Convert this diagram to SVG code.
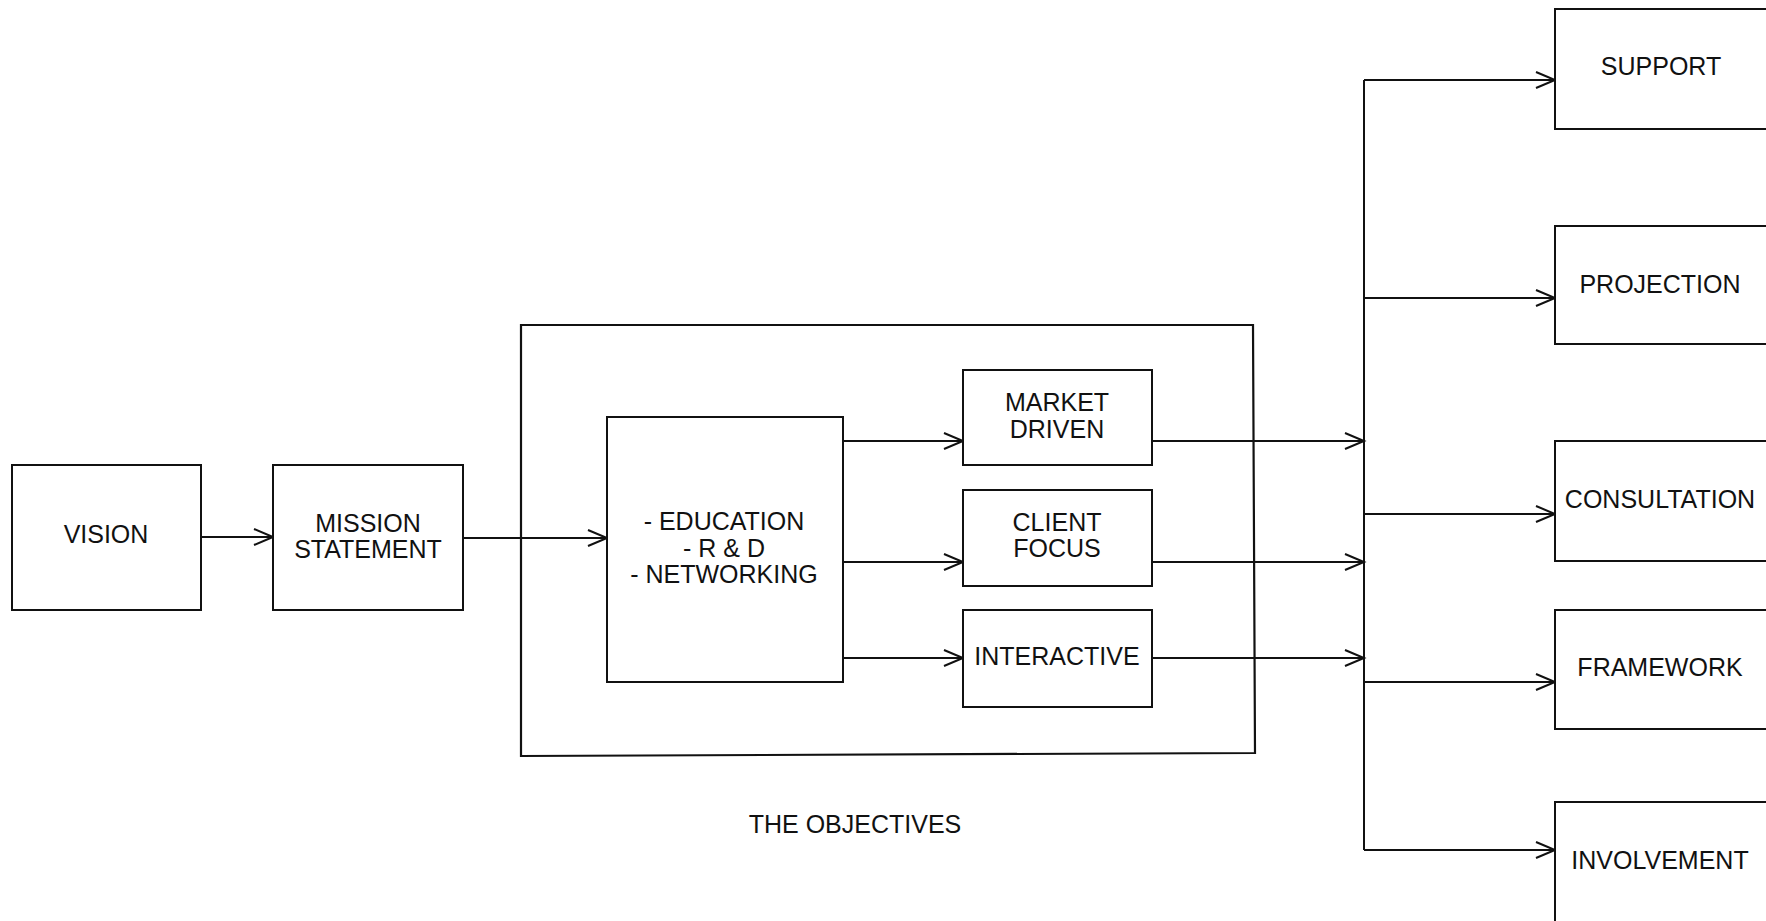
<svg xmlns="http://www.w3.org/2000/svg" width="1766" height="921" viewBox="0 0 1766 921">
<style>
.box{fill:#fff;stroke:#111;stroke-width:2}
.frame{fill:none;stroke:#111;stroke-width:2.2}
.t{font-family:"Liberation Sans",Arial,sans-serif;font-size:25px;fill:#111;text-anchor:middle}
.c{fill:none;stroke:#111;stroke-width:2}
</style>
<defs>
<marker id="arr" markerUnits="userSpaceOnUse" markerWidth="24" markerHeight="20" refX="20" refY="9" orient="auto">
<path d="M1,1 L20,9 L1,17" fill="none" stroke="#111" stroke-width="2"/>
</marker>
</defs>
<rect width="1766" height="921" fill="#fff"/>
<g id="objectives-frame">
<path class="frame" d="M521,325 L1253,325 L1255,753 L521,756 Z"/>
<text class="t" x="855" y="833">THE OBJECTIVES</text>
</g>
<g id="connectors">
<line class="c" x1="202" y1="537" x2="273" y2="537" marker-end="url(#arr)"/>
<line class="c" x1="463" y1="538" x2="607" y2="538" marker-end="url(#arr)"/>
<line class="c" x1="843" y1="441" x2="963" y2="441" marker-end="url(#arr)"/>
<line class="c" x1="843" y1="562" x2="963" y2="562" marker-end="url(#arr)"/>
<line class="c" x1="843" y1="658" x2="963" y2="658" marker-end="url(#arr)"/>
<line class="c" x1="1152" y1="441" x2="1364" y2="441" marker-end="url(#arr)"/>
<line class="c" x1="1152" y1="562" x2="1364" y2="562" marker-end="url(#arr)"/>
<line class="c" x1="1152" y1="658" x2="1364" y2="658" marker-end="url(#arr)"/>
<line class="c" x1="1364" y1="80" x2="1364" y2="850"/>
<line class="c" x1="1364" y1="80" x2="1555" y2="80" marker-end="url(#arr)"/>
<line class="c" x1="1364" y1="298" x2="1555" y2="298" marker-end="url(#arr)"/>
<line class="c" x1="1364" y1="514" x2="1555" y2="514" marker-end="url(#arr)"/>
<line class="c" x1="1364" y1="682" x2="1555" y2="682" marker-end="url(#arr)"/>
<line class="c" x1="1364" y1="850" x2="1555" y2="850" marker-end="url(#arr)"/>
</g>
<g id="vision">
<rect class="box" x="12" y="465" width="189" height="145"/>
<text class="t" x="106" y="543">VISION</text>
</g>
<g id="mission">
<rect class="box" x="273" y="465" width="190" height="145"/>
<text class="t" x="368" y="532">MISSION</text>
<text class="t" x="368" y="558">STATEMENT</text>
</g>
<g id="education">
<rect class="box" x="607" y="417" width="236" height="265"/>
<text class="t" x="724" y="530">- EDUCATION</text>
<text class="t" x="724" y="557">- R &amp; D</text>
<text class="t" x="724" y="583">- NETWORKING</text>
</g>
<g id="market-driven">
<rect class="box" x="963" y="370" width="189" height="95"/>
<text class="t" x="1057" y="411">MARKET</text>
<text class="t" x="1057" y="438">DRIVEN</text>
</g>
<g id="client-focus">
<rect class="box" x="963" y="490" width="189" height="96"/>
<text class="t" x="1057" y="531">CLIENT</text>
<text class="t" x="1057" y="557">FOCUS</text>
</g>
<g id="interactive">
<rect class="box" x="963" y="610" width="189" height="97"/>
<text class="t" x="1057" y="665">INTERACTIVE</text>
</g>
<g id="support">
<rect class="box" x="1555" y="9" width="215" height="120"/>
<text class="t" x="1661" y="75">SUPPORT</text>
</g>
<g id="projection">
<rect class="box" x="1555" y="226" width="215" height="118"/>
<text class="t" x="1660" y="293">PROJECTION</text>
</g>
<g id="consultation">
<rect class="box" x="1555" y="441" width="215" height="120"/>
<text class="t" x="1660" y="508">CONSULTATION</text>
</g>
<g id="framework">
<rect class="box" x="1555" y="610" width="215" height="119"/>
<text class="t" x="1660" y="676">FRAMEWORK</text>
</g>
<g id="involvement">
<rect class="box" x="1555" y="802" width="215" height="130"/>
<text class="t" x="1660" y="869">INVOLVEMENT</text>
</g>
</svg>
